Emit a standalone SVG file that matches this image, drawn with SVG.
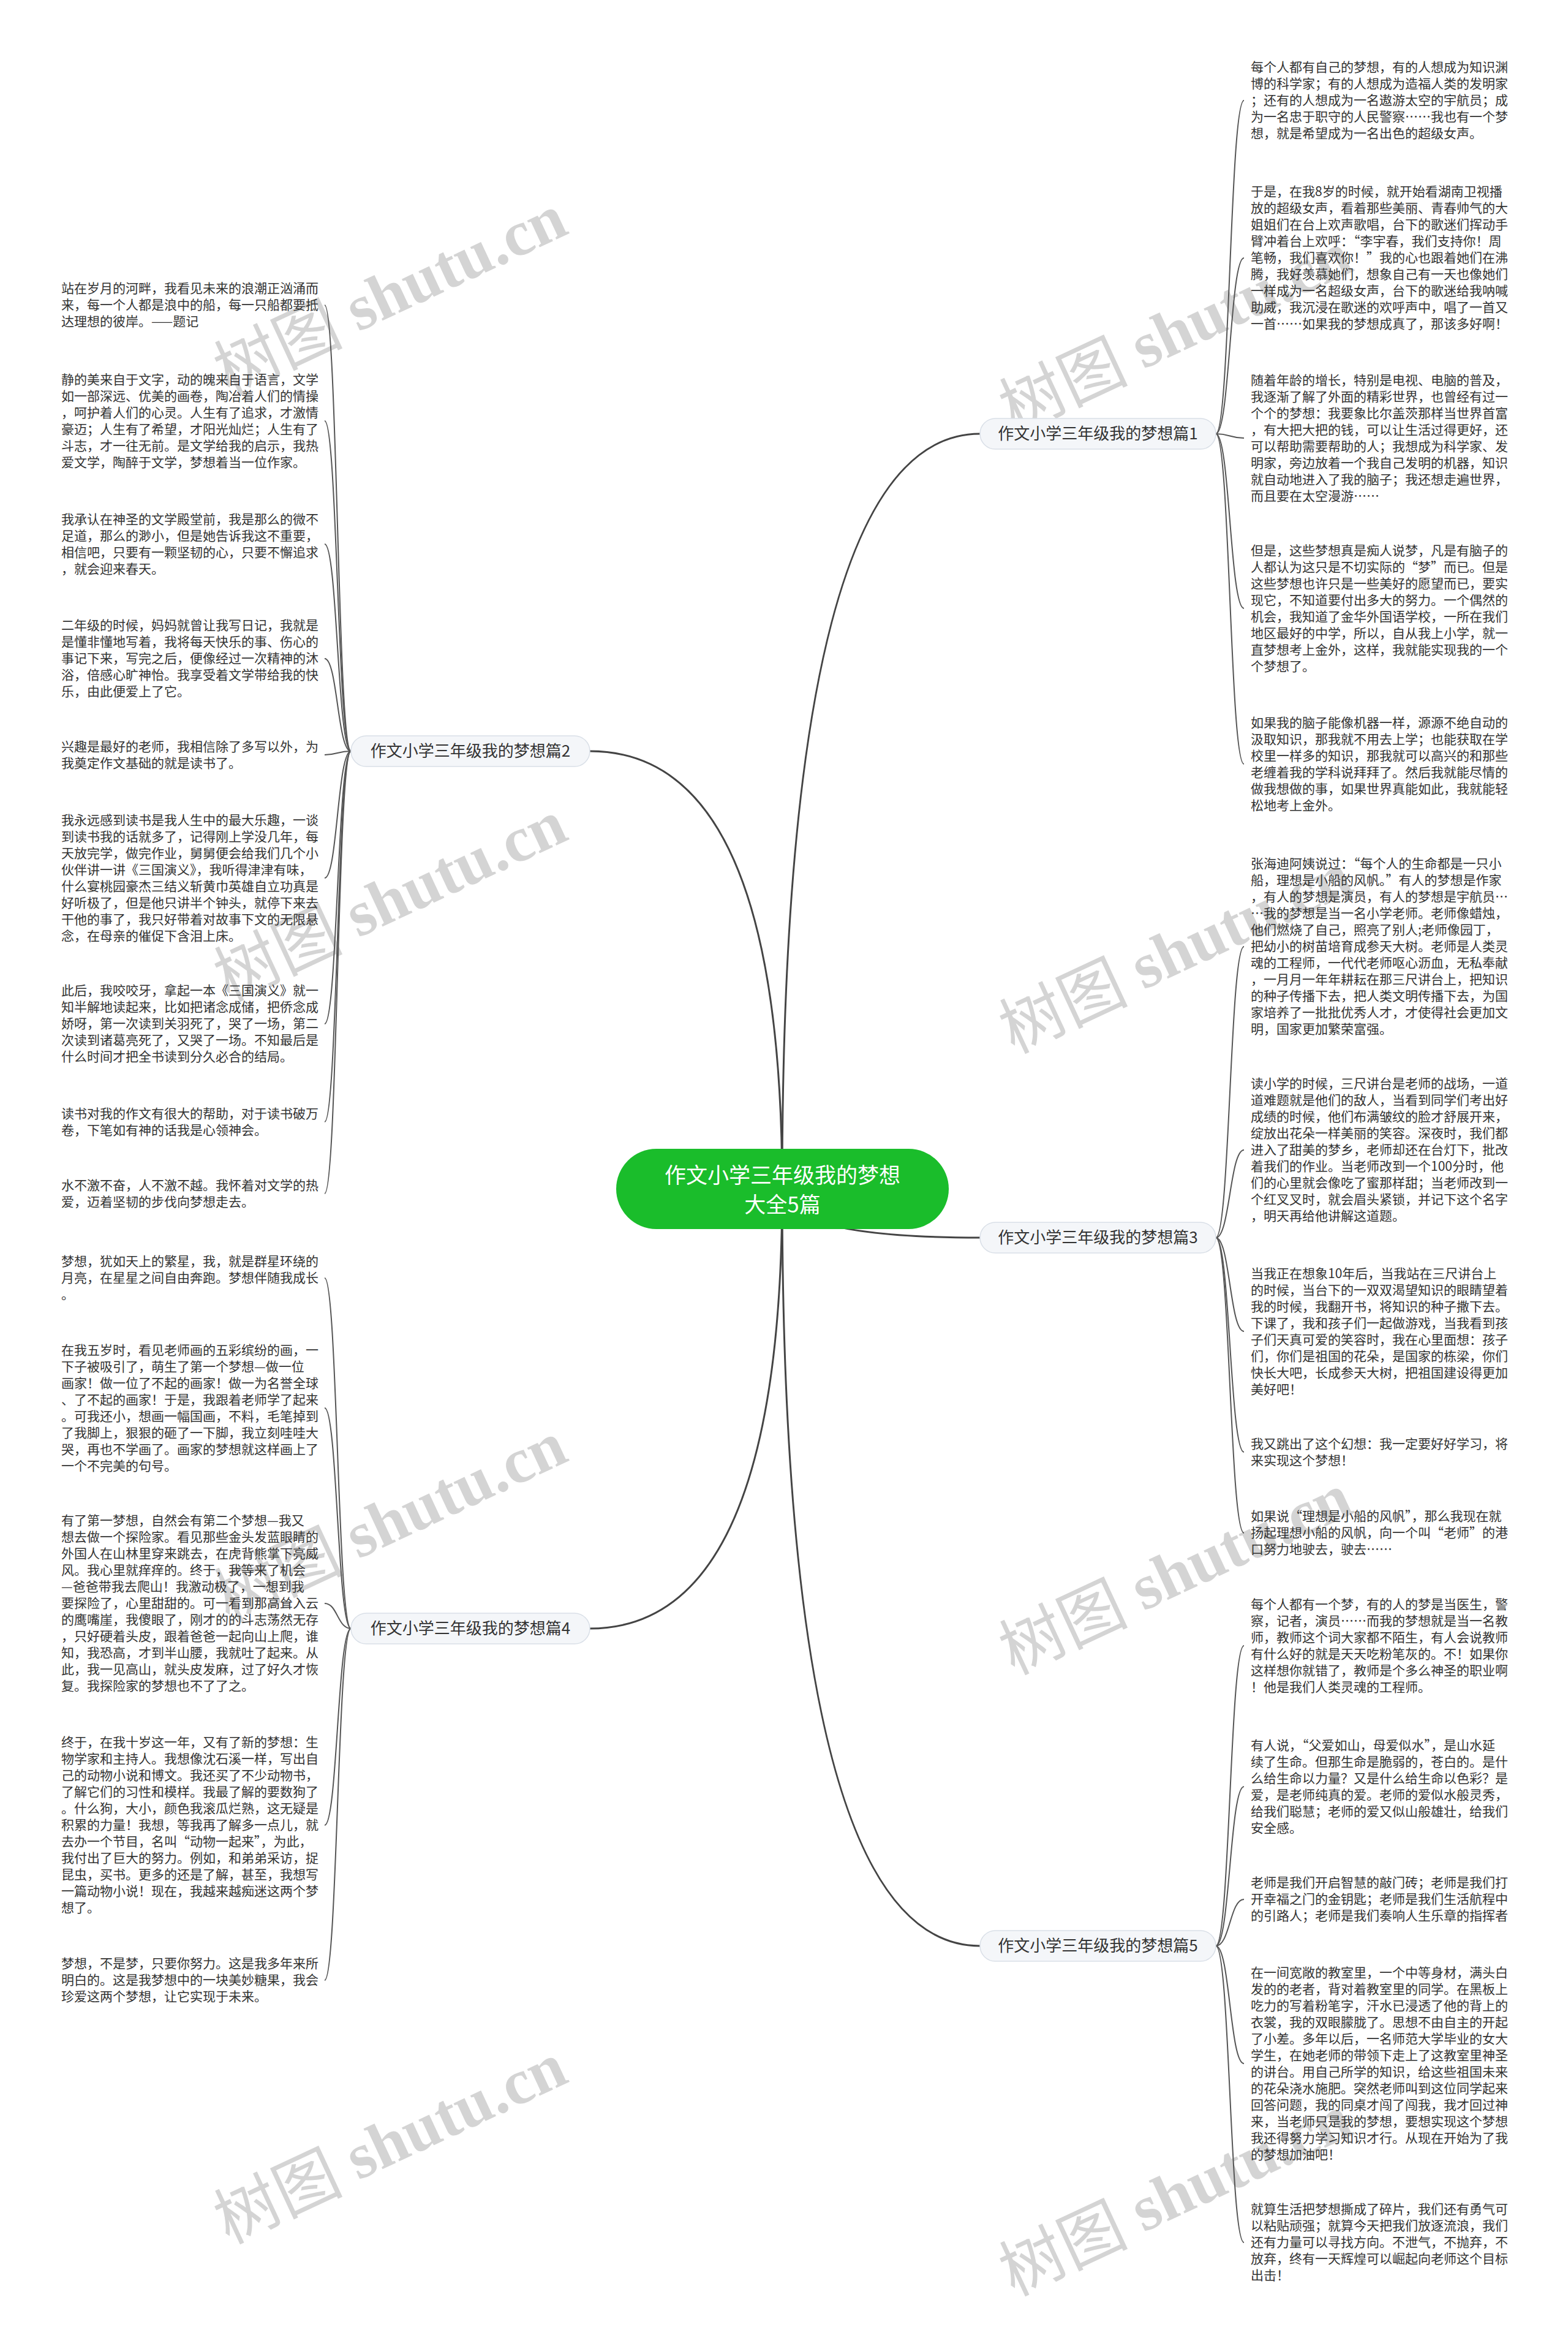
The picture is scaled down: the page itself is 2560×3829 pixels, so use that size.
<svg xmlns="http://www.w3.org/2000/svg" width="2560" height="3829" viewBox="0 0 2560 3829">
<style>
.bg{fill:#ffffff}
.wm{font-family:"Liberation Serif","Noto Sans CJK SC",serif;font-weight:bold;font-size:105px;fill:#d4d4d4}
.wm .cj{font-family:"Noto Sans CJK SC",sans-serif;font-weight:normal}
.root rect{fill:#1abd2b}
.root text{font-family:"Noto Sans CJK SC","Noto Sans",sans-serif;font-size:35px;fill:#ffffff;text-anchor:middle}
.br rect{fill:#f4f6f9;stroke:#d9dfe7;stroke-width:1.5}
.br text{font-family:"Noto Sans CJK SC","Noto Sans",sans-serif;font-size:26px;fill:#333333;text-anchor:middle}
.lf text{font-family:"Noto Sans CJK SC","Noto Sans",sans-serif;font-size:21px;fill:#333333}
.c1{fill:none;stroke:#444444;stroke-width:3}
.c2{fill:none;stroke:#555555;stroke-width:2}
</style>
<rect class="bg" x="0" y="0" width="2560" height="3829"/>
<g id="watermarks">
<text class="wm" transform="translate(641 489) rotate(-25)" text-anchor="middle" dominant-baseline="middle"><tspan class="cj">树图</tspan> shutu.cn</text>
<text class="wm" transform="translate(641 1478) rotate(-25)" text-anchor="middle" dominant-baseline="middle"><tspan class="cj">树图</tspan> shutu.cn</text>
<text class="wm" transform="translate(641 2492) rotate(-25)" text-anchor="middle" dominant-baseline="middle"><tspan class="cj">树图</tspan> shutu.cn</text>
<text class="wm" transform="translate(641 3506) rotate(-25)" text-anchor="middle" dominant-baseline="middle"><tspan class="cj">树图</tspan> shutu.cn</text>
<text class="wm" transform="translate(1923 550) rotate(-25)" text-anchor="middle" dominant-baseline="middle"><tspan class="cj">树图</tspan> shutu.cn</text>
<text class="wm" transform="translate(1923 1563) rotate(-25)" text-anchor="middle" dominant-baseline="middle"><tspan class="cj">树图</tspan> shutu.cn</text>
<text class="wm" transform="translate(1923 2577) rotate(-25)" text-anchor="middle" dominant-baseline="middle"><tspan class="cj">树图</tspan> shutu.cn</text>
<text class="wm" transform="translate(1923 3591) rotate(-25)" text-anchor="middle" dominant-baseline="middle"><tspan class="cj">树图</tspan> shutu.cn</text>
</g>
<g id="connectors">
<path class="c1" d="M1277 1940 Q1277 708 1600 708"/>
<path class="c1" d="M1277 1940 Q1277 2020 1600 2020"/>
<path class="c1" d="M1277 1940 Q1277 3176 1600 3176"/>
<path class="c1" d="M1277 1940 Q1277 1226 963 1226"/>
<path class="c1" d="M1277 1940 Q1277 2658 963 2658"/>
<path class="c2" d="M1985 708 C2008 708 2008 164 2031 164"/>
<path class="c2" d="M1985 708 C2008 708 2008 421 2031 421"/>
<path class="c2" d="M1985 708 C2008 708 2008 715 2031 715"/>
<path class="c2" d="M1985 708 C2008 708 2008 993 2031 993"/>
<path class="c2" d="M1985 708 C2008 708 2008 1247 2031 1247"/>
<path class="c2" d="M1985 2020 C2008 2020 2008 1545 2031 1545"/>
<path class="c2" d="M1985 2020 C2008 2020 2008 1877 2031 1877"/>
<path class="c2" d="M1985 2020 C2008 2020 2008 2173 2031 2173"/>
<path class="c2" d="M1985 2020 C2008 2020 2008 2370 2031 2370"/>
<path class="c2" d="M1985 2020 C2008 2020 2008 2502 2031 2502"/>
<path class="c2" d="M1985 3176 C2008 3176 2008 2686 2031 2686"/>
<path class="c2" d="M1985 3176 C2008 3176 2008 2916 2031 2916"/>
<path class="c2" d="M1985 3176 C2008 3176 2008 3100 2031 3100"/>
<path class="c2" d="M1985 3176 C2008 3176 2008 3368 2031 3368"/>
<path class="c2" d="M1985 3176 C2008 3176 2008 3660 2031 3660"/>
<path class="c2" d="M573 1226 C551 1226 551 498 530 498"/>
<path class="c2" d="M573 1226 C551 1226 551 687 530 687"/>
<path class="c2" d="M573 1226 C551 1226 551 888 530 888"/>
<path class="c2" d="M573 1226 C551 1226 551 1075 530 1075"/>
<path class="c2" d="M573 1226 C551 1226 551 1232 530 1232"/>
<path class="c2" d="M573 1226 C551 1226 551 1433 530 1433"/>
<path class="c2" d="M573 1226 C551 1226 551 1671 530 1671"/>
<path class="c2" d="M573 1226 C551 1226 551 1831 530 1831"/>
<path class="c2" d="M573 1226 C551 1226 551 1948 530 1948"/>
<path class="c2" d="M573 2658 C551 2658 551 2086 530 2086"/>
<path class="c2" d="M573 2658 C551 2658 551 2298 530 2298"/>
<path class="c2" d="M573 2658 C551 2658 551 2617 530 2617"/>
<path class="c2" d="M573 2658 C551 2658 551 2979 530 2979"/>
<path class="c2" d="M573 2658 C551 2658 551 3232 530 3232"/>
</g>
<g id="root" class="root">
<rect x="1006" y="1875" width="543" height="131" rx="65.5"/>
<text x="1277.5" y="1931">作文小学三年级我的梦想</text>
<text x="1277.5" y="1979">大全5篇</text>
</g>
<g id="b1" class="br"><rect x="1600" y="683" width="385" height="50" rx="25"/><text x="1792.5" y="717">作文小学三年级我的梦想篇1</text></g>
<g id="b2" class="br"><rect x="573" y="1201" width="390" height="50" rx="25"/><text x="768" y="1235">作文小学三年级我的梦想篇2</text></g>
<g id="b3" class="br"><rect x="1600" y="1995" width="385" height="50" rx="25"/><text x="1792.5" y="2029">作文小学三年级我的梦想篇3</text></g>
<g id="b4" class="br"><rect x="573" y="2633" width="390" height="50" rx="25"/><text x="768" y="2667">作文小学三年级我的梦想篇4</text></g>
<g id="b5" class="br"><rect x="1600" y="3151" width="385" height="50" rx="25"/><text x="1792.5" y="3185">作文小学三年级我的梦想篇5</text></g>
<g id="r1a" class="lf"><text x="2042" y="117"><tspan x="2042">每个人都有自己的梦想，有的人想成为知识渊</tspan><tspan x="2042" dy="27">博的科学家；有的人想成为造福人类的发明家</tspan><tspan x="2042" dy="27">；还有的人想成为一名遨游太空的宇航员；成</tspan><tspan x="2042" dy="27">为一名忠于职守的人民警察……我也有一个梦</tspan><tspan x="2042" dy="27">想，就是希望成为一名出色的超级女声。</tspan></text></g>
<g id="r1b" class="lf"><text x="2042" y="320"><tspan x="2042">于是，在我8岁的时候，就开始看湖南卫视播</tspan><tspan x="2042" dy="27">放的超级女声，看着那些美丽、青春帅气的大</tspan><tspan x="2042" dy="27">姐姐们在台上欢声歌唱，台下的歌迷们挥动手</tspan><tspan x="2042" dy="27">臂冲着台上欢呼：“李宇春，我们支持你！周</tspan><tspan x="2042" dy="27">笔畅，我们喜欢你！”我的心也跟着她们在沸</tspan><tspan x="2042" dy="27">腾，我好羡慕她们，想象自己有一天也像她们</tspan><tspan x="2042" dy="27">一样成为一名超级女声，台下的歌迷给我呐喊</tspan><tspan x="2042" dy="27">助威，我沉浸在歌迷的欢呼声中，唱了一首又</tspan><tspan x="2042" dy="27">一首……如果我的梦想成真了，那该多好啊！</tspan></text></g>
<g id="r1c" class="lf"><text x="2042" y="628"><tspan x="2042">随着年龄的增长，特别是电视、电脑的普及，</tspan><tspan x="2042" dy="27">我逐渐了解了外面的精彩世界，也曾经有过一</tspan><tspan x="2042" dy="27">个个的梦想：我要象比尔盖茨那样当世界首富</tspan><tspan x="2042" dy="27">，有大把大把的钱，可以让生活过得更好，还</tspan><tspan x="2042" dy="27">可以帮助需要帮助的人；我想成为科学家、发</tspan><tspan x="2042" dy="27">明家，旁边放着一个我自己发明的机器，知识</tspan><tspan x="2042" dy="27">就自动地进入了我的脑子；我还想走遍世界，</tspan><tspan x="2042" dy="27">而且要在太空漫游……</tspan></text></g>
<g id="r1d" class="lf"><text x="2042" y="906"><tspan x="2042">但是，这些梦想真是痴人说梦，凡是有脑子的</tspan><tspan x="2042" dy="27">人都认为这只是不切实际的“梦”而已。但是</tspan><tspan x="2042" dy="27">这些梦想也许只是一些美好的愿望而已，要实</tspan><tspan x="2042" dy="27">现它，不知道要付出多大的努力。一个偶然的</tspan><tspan x="2042" dy="27">机会，我知道了金华外国语学校，一所在我们</tspan><tspan x="2042" dy="27">地区最好的中学，所以，自从我上小学，就一</tspan><tspan x="2042" dy="27">直梦想考上金外，这样，我就能实现我的一个</tspan><tspan x="2042" dy="27">个梦想了。</tspan></text></g>
<g id="r1e" class="lf"><text x="2042" y="1187"><tspan x="2042">如果我的脑子能像机器一样，源源不绝自动的</tspan><tspan x="2042" dy="27">汲取知识，那我就不用去上学；也能获取在学</tspan><tspan x="2042" dy="27">校里一样多的知识，那我就可以高兴的和那些</tspan><tspan x="2042" dy="27">老缠着我的学科说拜拜了。然后我就能尽情的</tspan><tspan x="2042" dy="27">做我想做的事，如果世界真能如此，我就能轻</tspan><tspan x="2042" dy="27">松地考上金外。</tspan></text></g>
<g id="r3a" class="lf"><text x="2042" y="1417"><tspan x="2042">张海迪阿姨说过：“每个人的生命都是一只小</tspan><tspan x="2042" dy="27">船，理想是小船的风帆。”有人的梦想是作家</tspan><tspan x="2042" dy="27">，有人的梦想是演员，有人的梦想是宇航员…</tspan><tspan x="2042" dy="27">…我的梦想是当一名小学老师。老师像蜡烛，</tspan><tspan x="2042" dy="27">他们燃烧了自己，照亮了别人;老师像园丁，</tspan><tspan x="2042" dy="27">把幼小的树苗培育成参天大树。老师是人类灵</tspan><tspan x="2042" dy="27">魂的工程师，一代代老师呕心沥血，无私奉献</tspan><tspan x="2042" dy="27">，一月月一年年耕耘在那三尺讲台上，把知识</tspan><tspan x="2042" dy="27">的种子传播下去，把人类文明传播下去，为国</tspan><tspan x="2042" dy="27">家培养了一批批优秀人才，才使得社会更加文</tspan><tspan x="2042" dy="27">明，国家更加繁荣富强。</tspan></text></g>
<g id="r3b" class="lf"><text x="2042" y="1776"><tspan x="2042">读小学的时候，三尺讲台是老师的战场，一道</tspan><tspan x="2042" dy="27">道难题就是他们的敌人，当看到同学们考出好</tspan><tspan x="2042" dy="27">成绩的时候，他们布满皱纹的脸才舒展开来，</tspan><tspan x="2042" dy="27">绽放出花朵一样美丽的笑容。深夜时，我们都</tspan><tspan x="2042" dy="27">进入了甜美的梦乡，老师却还在台灯下，批改</tspan><tspan x="2042" dy="27">着我们的作业。当老师改到一个100分时，他</tspan><tspan x="2042" dy="27">们的心里就会像吃了蜜那样甜；当老师改到一</tspan><tspan x="2042" dy="27">个红叉叉时，就会眉头紧锁，并记下这个名字</tspan><tspan x="2042" dy="27">，明天再给他讲解这道题。</tspan></text></g>
<g id="r3c" class="lf"><text x="2042" y="2086"><tspan x="2042">当我正在想象10年后，当我站在三尺讲台上</tspan><tspan x="2042" dy="27">的时候，当台下的一双双渴望知识的眼睛望着</tspan><tspan x="2042" dy="27">我的时候，我翻开书，将知识的种子撒下去。</tspan><tspan x="2042" dy="27">下课了，我和孩子们一起做游戏，当我看到孩</tspan><tspan x="2042" dy="27">子们天真可爱的笑容时，我在心里面想：孩子</tspan><tspan x="2042" dy="27">们，你们是祖国的花朵，是国家的栋梁，你们</tspan><tspan x="2042" dy="27">快长大吧，长成参天大树，把祖国建设得更加</tspan><tspan x="2042" dy="27">美好吧！</tspan></text></g>
<g id="r3d" class="lf"><text x="2042" y="2364"><tspan x="2042">我又跳出了这个幻想：我一定要好好学习，将</tspan><tspan x="2042" dy="27">来实现这个梦想！</tspan></text></g>
<g id="r3e" class="lf"><text x="2042" y="2482"><tspan x="2042">如果说“理想是小船的风帆”，那么我现在就</tspan><tspan x="2042" dy="27">扬起理想小船的风帆，向一个叫“老师”的港</tspan><tspan x="2042" dy="27">口努力地驶去，驶去……</tspan></text></g>
<g id="r5a" class="lf"><text x="2042" y="2626"><tspan x="2042">每个人都有一个梦，有的人的梦是当医生，警</tspan><tspan x="2042" dy="27">察，记者，演员……而我的梦想就是当一名教</tspan><tspan x="2042" dy="27">师，教师这个词大家都不陌生，有人会说教师</tspan><tspan x="2042" dy="27">有什么好的就是天天吃粉笔灰的。不！如果你</tspan><tspan x="2042" dy="27">这样想你就错了，教师是个多么神圣的职业啊</tspan><tspan x="2042" dy="27">！他是我们人类灵魂的工程师。</tspan></text></g>
<g id="r5b" class="lf"><text x="2042" y="2856"><tspan x="2042">有人说，“父爱如山，母爱似水”，是山水延</tspan><tspan x="2042" dy="27">续了生命。但那生命是脆弱的，苍白的。是什</tspan><tspan x="2042" dy="27">么给生命以力量？又是什么给生命以色彩？是</tspan><tspan x="2042" dy="27">爱，是老师纯真的爱。老师的爱似水般灵秀，</tspan><tspan x="2042" dy="27">给我们聪慧；老师的爱又似山般雄壮，给我们</tspan><tspan x="2042" dy="27">安全感。</tspan></text></g>
<g id="r5c" class="lf"><text x="2042" y="3080"><tspan x="2042">老师是我们开启智慧的敲门砖；老师是我们打</tspan><tspan x="2042" dy="27">开幸福之门的金钥匙；老师是我们生活航程中</tspan><tspan x="2042" dy="27">的引路人；老师是我们奏响人生乐章的指挥者</tspan></text></g>
<g id="r5d" class="lf"><text x="2042" y="3227"><tspan x="2042">在一间宽敞的教室里，一个中等身材，满头白</tspan><tspan x="2042" dy="27">发的的老者，背对着教室里的同学。在黑板上</tspan><tspan x="2042" dy="27">吃力的写着粉笔字，汗水已浸透了他的背上的</tspan><tspan x="2042" dy="27">衣裳，我的双眼朦胧了。思想不由自主的开起</tspan><tspan x="2042" dy="27">了小差。多年以后，一名师范大学毕业的女大</tspan><tspan x="2042" dy="27">学生，在她老师的带领下走上了这教室里神圣</tspan><tspan x="2042" dy="27">的讲台。用自己所学的知识，给这些祖国未来</tspan><tspan x="2042" dy="27">的花朵浇水施肥。突然老师叫到这位同学起来</tspan><tspan x="2042" dy="27">回答问题，我的同桌才闯了闯我，我才回过神</tspan><tspan x="2042" dy="27">来，当老师只是我的梦想，要想实现这个梦想</tspan><tspan x="2042" dy="27">我还得努力学习知识才行。从现在开始为了我</tspan><tspan x="2042" dy="27">的梦想加油吧！</tspan></text></g>
<g id="r5e" class="lf"><text x="2042" y="3613"><tspan x="2042">就算生活把梦想撕成了碎片，我们还有勇气可</tspan><tspan x="2042" dy="27">以粘贴顽强；就算今天把我们放逐流浪，我们</tspan><tspan x="2042" dy="27">还有力量可以寻找方向。不泄气，不抛弃，不</tspan><tspan x="2042" dy="27">放弃，终有一天辉煌可以崛起向老师这个目标</tspan><tspan x="2042" dy="27">出击！</tspan></text></g>
<g id="l2a" class="lf"><text x="100" y="478"><tspan x="100">站在岁月的河畔，我看见未来的浪潮正汹涌而</tspan><tspan x="100" dy="27">来，每一个人都是浪中的船，每一只船都要抵</tspan><tspan x="100" dy="27">达理想的彼岸。——题记</tspan></text></g>
<g id="l2b" class="lf"><text x="100" y="627"><tspan x="100">静的美来自于文字，动的魄来自于语言，文学</tspan><tspan x="100" dy="27">如一部深远、优美的画卷，陶冶着人们的情操</tspan><tspan x="100" dy="27">，呵护着人们的心灵。人生有了追求，才激情</tspan><tspan x="100" dy="27">豪迈；人生有了希望，才阳光灿烂；人生有了</tspan><tspan x="100" dy="27">斗志，才一往无前。是文学给我的启示，我热</tspan><tspan x="100" dy="27">爱文学，陶醉于文学，梦想着当一位作家。</tspan></text></g>
<g id="l2c" class="lf"><text x="100" y="855"><tspan x="100">我承认在神圣的文学殿堂前，我是那么的微不</tspan><tspan x="100" dy="27">足道，那么的渺小，但是她告诉我这不重要，</tspan><tspan x="100" dy="27">相信吧，只要有一颗坚韧的心，只要不懈追求</tspan><tspan x="100" dy="27">，就会迎来春天。</tspan></text></g>
<g id="l2d" class="lf"><text x="100" y="1028"><tspan x="100">二年级的时候，妈妈就曾让我写日记，我就是</tspan><tspan x="100" dy="27">是懂非懂地写着，我将每天快乐的事、伤心的</tspan><tspan x="100" dy="27">事记下来，写完之后，便像经过一次精神的沐</tspan><tspan x="100" dy="27">浴，倍感心旷神怡。我享受着文学带给我的快</tspan><tspan x="100" dy="27">乐，由此便爱上了它。</tspan></text></g>
<g id="l2e" class="lf"><text x="100" y="1226"><tspan x="100">兴趣是最好的老师，我相信除了多写以外，为</tspan><tspan x="100" dy="27">我奠定作文基础的就是读书了。</tspan></text></g>
<g id="l2f" class="lf"><text x="100" y="1346"><tspan x="100">我永远感到读书是我人生中的最大乐趣，一谈</tspan><tspan x="100" dy="27">到读书我的话就多了，记得刚上学没几年，每</tspan><tspan x="100" dy="27">天放完学，做完作业，舅舅便会给我们几个小</tspan><tspan x="100" dy="27">伙伴讲一讲《三国演义》，我听得津津有味，</tspan><tspan x="100" dy="27">什么宴桃园豪杰三结义斩黄巾英雄自立功真是</tspan><tspan x="100" dy="27">好听极了，但是他只讲半个钟头，就停下来去</tspan><tspan x="100" dy="27">干他的事了，我只好带着对故事下文的无限悬</tspan><tspan x="100" dy="27">念，在母亲的催促下含泪上床。</tspan></text></g>
<g id="l2g" class="lf"><text x="100" y="1624"><tspan x="100">此后，我咬咬牙，拿起一本《三国演义》就一</tspan><tspan x="100" dy="27">知半解地读起来，比如把诸念成储，把侨念成</tspan><tspan x="100" dy="27">娇呀，第一次读到关羽死了，哭了一场，第二</tspan><tspan x="100" dy="27">次读到诸葛亮死了，又哭了一场。不知最后是</tspan><tspan x="100" dy="27">什么时间才把全书读到分久必合的结局。</tspan></text></g>
<g id="l2h" class="lf"><text x="100" y="1825"><tspan x="100">读书对我的作文有很大的帮助，对于读书破万</tspan><tspan x="100" dy="27">卷，下笔如有神的话我是心领神会。</tspan></text></g>
<g id="l2i" class="lf"><text x="100" y="1942"><tspan x="100">水不激不奋，人不激不越。我怀着对文学的热</tspan><tspan x="100" dy="27">爱，迈着坚韧的步伐向梦想走去。</tspan></text></g>
<g id="l4a" class="lf"><text x="100" y="2066"><tspan x="100">梦想，犹如天上的繁星，我，就是群星环绕的</tspan><tspan x="100" dy="27">月亮，在星星之间自由奔跑。梦想伴随我成长</tspan><tspan x="100" dy="27">。</tspan></text></g>
<g id="l4b" class="lf"><text x="100" y="2211"><tspan x="100">在我五岁时，看见老师画的五彩缤纷的画，一</tspan><tspan x="100" dy="27">下子被吸引了，萌生了第一个梦想—做一位</tspan><tspan x="100" dy="27">画家！做一位了不起的画家！做一为名誉全球</tspan><tspan x="100" dy="27">、了不起的画家！于是，我跟着老师学了起来</tspan><tspan x="100" dy="27">。可我还小，想画一幅国画，不料，毛笔掉到</tspan><tspan x="100" dy="27">了我脚上，狠狠的砸了一下脚，我立刻哇哇大</tspan><tspan x="100" dy="27">哭，再也不学画了。画家的梦想就这样画上了</tspan><tspan x="100" dy="27">一个不完美的句号。</tspan></text></g>
<g id="l4c" class="lf"><text x="100" y="2489"><tspan x="100">有了第一梦想，自然会有第二个梦想—我又</tspan><tspan x="100" dy="27">想去做一个探险家。看见那些金头发蓝眼睛的</tspan><tspan x="100" dy="27">外国人在山林里穿来跳去，在虎背熊掌下亮威</tspan><tspan x="100" dy="27">风。我心里就痒痒的。终于，我等来了机会</tspan><tspan x="100" dy="27">—爸爸带我去爬山！我激动极了，一想到我</tspan><tspan x="100" dy="27">要探险了，心里甜甜的。可一看到那高耸入云</tspan><tspan x="100" dy="27">的鹰嘴崖，我傻眼了，刚才的的斗志荡然无存</tspan><tspan x="100" dy="27">，只好硬着头皮，跟着爸爸一起向山上爬，谁</tspan><tspan x="100" dy="27">知，我恐高，才到半山腰，我就吐了起来。从</tspan><tspan x="100" dy="27">此，我一见高山，就头皮发麻，过了好久才恢</tspan><tspan x="100" dy="27">复。我探险家的梦想也不了了之。</tspan></text></g>
<g id="l4d" class="lf"><text x="100" y="2851"><tspan x="100">终于，在我十岁这一年，又有了新的梦想：生</tspan><tspan x="100" dy="27">物学家和主持人。我想像沈石溪一样，写出自</tspan><tspan x="100" dy="27">己的动物小说和博文。我还买了不少动物书，</tspan><tspan x="100" dy="27">了解它们的习性和模样。我最了解的要数狗了</tspan><tspan x="100" dy="27">。什么狗，大小，颜色我滚瓜烂熟，这无疑是</tspan><tspan x="100" dy="27">积累的力量！我想，等我再了解多一点儿，就</tspan><tspan x="100" dy="27">去办一个节目，名叫“动物一起来”，为此，</tspan><tspan x="100" dy="27">我付出了巨大的努力。例如，和弟弟采访，捉</tspan><tspan x="100" dy="27">昆虫，买书。更多的还是了解，甚至，我想写</tspan><tspan x="100" dy="27">一篇动物小说！现在，我越来越痴迷这两个梦</tspan><tspan x="100" dy="27">想了。</tspan></text></g>
<g id="l4e" class="lf"><text x="100" y="3212"><tspan x="100">梦想，不是梦，只要你努力。这是我多年来所</tspan><tspan x="100" dy="27">明白的。这是我梦想中的一块美妙糖果，我会</tspan><tspan x="100" dy="27">珍爱这两个梦想，让它实现于未来。</tspan></text></g>
</svg>
